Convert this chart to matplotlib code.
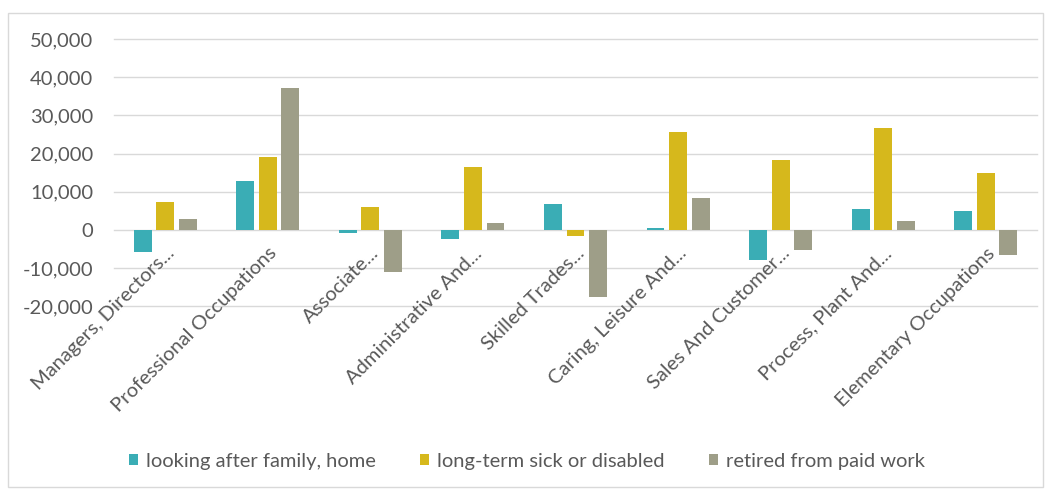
import matplotlib
matplotlib.use("Agg")
import matplotlib.pyplot as plt
import numpy as np
from matplotlib.patches import Rectangle
from matplotlib.ticker import FuncFormatter

categories = ["Managers, Directors...", "Professional Occupations", "Associate...",
              "Administrative And...", "Skilled Trades...", "Caring, Leisure And...",
              "Sales And Customer...", "Process, Plant And...", "Elementary Occupations"]
series_names = ["looking after family, home", "long-term sick or disabled", "retired from paid work"]
looking_after = [-5800, 12900, -700, -2300, 6800, 600, -7800, 5500, 4900]
long_term_sick = [7400, 19000, 6100, 16500, -1700, 25700, 18300, 26800, 14800]
retired = [3000, 37300, -11000, 1900, -17500, 8500, -5200, 2400, -6500]
y_ticks = [-20000, -10000, 0, 10000, 20000, 30000, 40000, 50000]

colors = ["#3AADB5", "#D6B81C", "#9E9E88"]
text_color = "#595959"
plt.rcParams['font.family'] = ['Lato', 'DejaVu Sans']
FS = 14.5

fig = plt.figure(figsize=(10.5, 4.93), dpi=100)
fig.patches.append(Rectangle((8/1050, 1-487/493), (1043-8)/1050, (487-13)/493,
                             transform=fig.transFigure, fill=False,
                             edgecolor="#D9D9D9", linewidth=1.0))
ax = fig.add_axes([114/1050, 1-306.4/493, (1037-114)/1050, (306.4-39)/493])

x = np.arange(len(categories))
w = 0.175
offs = [-0.22, 0, 0.22]
for vals, off, c, name in zip([looking_after, long_term_sick, retired], offs, colors, series_names):
    ax.bar(x + off, vals, width=w, color=c, label=name, zorder=3)

ax.set_xlim(-0.5, len(categories) - 0.5)
ax.set_ylim(-20000, 50000)
ax.set_yticks(y_ticks)
ax.yaxis.set_major_formatter(FuncFormatter(lambda v, p: f"{int(v):,}"))
for yv in y_ticks:
    ax.axhline(yv, color="#D9D9D9", linewidth=1.0, zorder=0, clip_on=False)
for s in ax.spines.values():
    s.set_visible(False)
ax.tick_params(axis="y", length=0, colors=text_color, labelsize=FS, pad=15)
ax.set_xticks([])

# category labels placed next to the zero axis (as in the source chart)
for xi, lab in zip(x, categories):
    ax.text(xi + 0.0, -3800, lab, rotation=45, ha="right", va="top",
            rotation_mode="anchor", fontsize=FS, color=text_color, zorder=4)

leg = fig.legend(loc="center", bbox_to_anchor=(0.502, 1-461/493), ncol=3, frameon=False,
                 fontsize=FS, handlelength=0.45, handleheight=0.45, handletextpad=0.4,
                 columnspacing=2.2)
for t in leg.get_texts():
    t.set_color(text_color)

fig.savefig("out.png", dpi=100)
